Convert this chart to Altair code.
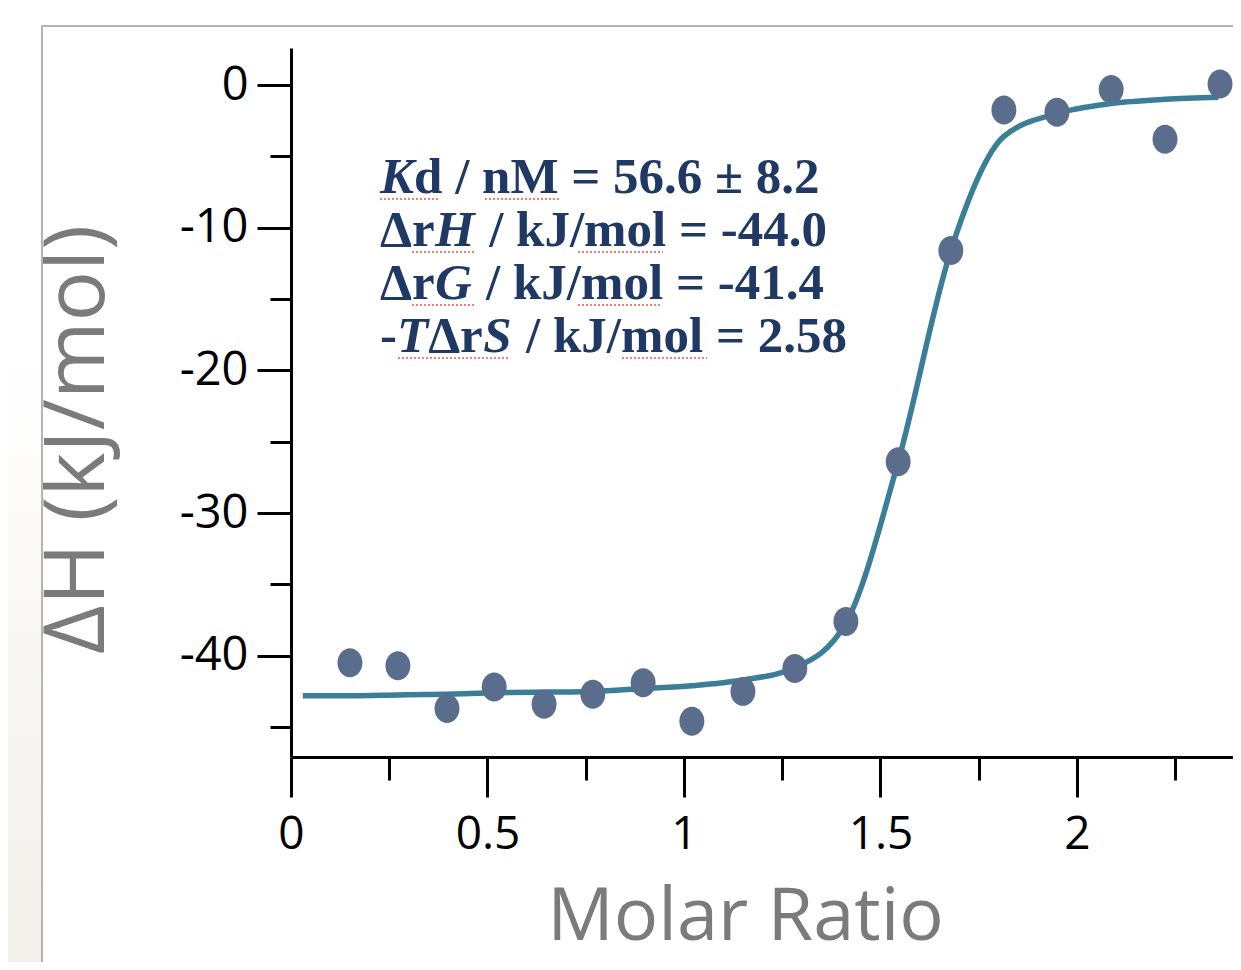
import altair as alt
import pandas as pd

# ---- data ----
molar_ratio = [0.150, 0.272, 0.397, 0.517, 0.644, 0.768, 0.896, 1.020, 1.150,
               1.282, 1.412, 1.545, 1.679, 1.814, 1.949, 2.087, 2.224, 2.364]
delta_h = [-40.5, -40.7, -43.7, -42.2, -43.4, -42.7, -41.9, -44.6, -42.5,
           -40.9, -37.6, -26.4, -11.6, -1.75, -1.9, -0.3, -3.8, 0.07]

fit_x = [0.03, 0.150, 0.272, 0.397, 0.517, 0.644, 0.768, 0.896, 1.020, 1.150,
         1.282, 1.412, 1.545, 1.679, 1.814, 1.949, 2.087, 2.224, 2.360]
fit_y = [-42.8, -42.8, -42.75, -42.7, -42.6, -42.55, -42.5, -42.3, -42.1, -41.7,
         -40.85, -37.7, -26.4, -11.6, -3.6, -2.0, -1.3, -1.0, -0.85]

x_ticks = [0, 0.25, 0.5, 0.75, 1, 1.25, 1.5, 1.75, 2, 2.25]
y_ticks = [0, -5, -10, -15, -20, -25, -30, -35, -40, -45]

# annotation lines: list of (text, italic) segments
annotation = [
    [("K", True), ("d / nM = 56.6 ± 8.2", False)],
    [("Δr", False), ("H", True), ("/ kJ/mol = -44.0", False)],
    [("Δr", False), ("G", True), ("/ kJ/mol = -41.4", False)],
    [("-", False), ("T", True), ("Δr", False), ("S", True), ("/ kJ/mol = 2.58", False)],
]
# spell-check squiggles under words (page pixel spans per annotation line)
squiggles = [
    [(380, 440), (485, 560)],
    [(412, 475), (578, 663)],
    [(412, 475), (578, 662)],
    [(398, 510), (622, 707)],
]

# ---- styling ----
W, H = 942, 709
PAD_L, PAD_T = 283, 40
DOT = "#5a6d8c"
LINE = "#3a7f97"
NAVY = "#1f3864"
AXIS_FONT = "Open Sans"
ANN_SIZE = 51

pts = pd.DataFrame({"x": molar_ratio, "y": delta_h})
fit = pd.DataFrame({"x": fit_x, "y": fit_y})

xscale = alt.Scale(domain=[0, 2.397], nice=False, zero=False)
yscale = alt.Scale(domain=[-47.1, 2.6], nice=False, zero=False)

xaxis = alt.Axis(
    title="Molar Ratio", values=x_ticks, grid=False,
    labelExpr="(datum.value * 2) % 1 === 0 ? '' + datum.value : ''",
    tickSize={"condition": {"test": "(datum.value * 2) % 1 === 0", "value": 40}, "value": 23},
    tickWidth=3, tickColor="black", domainColor="black", domainWidth=3,
    labelFont=AXIS_FONT, labelFontSize=46, labelColor="black", labelPadding=15,
    labelFlush=False, labelOverlap=False,
    titleFont=AXIS_FONT, titleFontSize=74, titleFontWeight="normal", titleColor="#7b7b7b",
    titleX=454, titleY=182, titleAlign="center", titleBaseline="alphabetic",
)
yaxis = alt.Axis(
    title="ΔH (kJ/mol)", values=y_ticks, grid=False,
    labelExpr="datum.value % 10 === 0 ? '' + datum.value : ''",
    tickSize={"condition": {"test": "datum.value % 10 === 0", "value": 34}, "value": 21},
    tickWidth=3, tickColor="black", domainColor="black", domainWidth=3,
    labelFont=AXIS_FONT, labelFontSize=47, labelColor="black", labelPadding=9,
    labelFlush=False, labelOverlap=False,
    titleFont=AXIS_FONT, titleFontSize=84, titleFontWeight="normal", titleColor="#7b7b7b",
    titleAngle=-90, titleX=-188, titleY=391, titleAlign="center", titleBaseline="alphabetic",
)

one = pd.DataFrame({"a": [0]})

# slide frame decorations
strip = alt.Chart(one).mark_rect(
    fill=alt.Gradient(gradient="linear", x1=0, y1=0, x2=0, y2=1,
                      stops=[alt.GradientStop(color="#ffffff", offset=0),
                             alt.GradientStop(color="#ffffff", offset=0.35),
                             alt.GradientStop(color="#f3efeb", offset=1)])
).encode(x=alt.value(-PAD_L), x2=alt.value(-250), y=alt.value(-PAD_T), y2=alt.value(H + 205))

frame = alt.Chart(one).mark_rect(filled=False, stroke="#b4b4b4", strokeWidth=2).encode(
    x=alt.value(-249), x2=alt.value(W + 40), y=alt.value(-22), y2=alt.value(H + 260))

line = alt.Chart(fit).mark_line(color=LINE, strokeWidth=5.5, interpolate="monotone").encode(
    x=alt.X("x:Q", scale=xscale, axis=xaxis),
    y=alt.Y("y:Q", scale=yscale, axis=yaxis),
)

points = alt.Chart(pts).mark_point(
    shape="M0,-1A0.86,1 0 1,1 0,1A0.86,1 0 1,1 0,-1Z",
    filled=True, fill=DOT, opacity=1, strokeWidth=0, size=840,
).encode(x=alt.X("x:Q", scale=xscale), y=alt.Y("y:Q", scale=yscale))

# approximate advance widths (em) for Liberation Serif bold / bold-italic prefixes,
# italic capitals include the following word space
adv = {("K", True): 0.667, ("Δr", False): 1.08, ("H", True): 1.06, ("G", True): 1.0,
       ("-", False): 0.333, ("T", True): 0.611, ("S", True): 0.84}

ann_layers = []
base_x = 380 - 8 - PAD_L
baselines = [193, 246, 299, 352]
for li, segs in enumerate(annotation):
    px = base_x
    py = baselines[li] - 8 - PAD_T
    for txt, ital in segs:
        ann_layers.append(
            alt.Chart(one).mark_text(
                text=txt, font="Liberation Serif", fontSize=ANN_SIZE, fontWeight="bold",
                fontStyle="italic" if ital else "normal", color=NAVY,
                align="left", baseline="alphabetic",
            ).encode(x=alt.value(px), y=alt.value(py))
        )
        px += adv.get((txt, ital), 0) * ANN_SIZE
    for a, b in squiggles[li]:
        ann_layers.append(
            alt.Chart(one).mark_rule(color="#e8584f", strokeWidth=1.6, strokeDash=[2, 2]).encode(
                x=alt.value(a - 8 - PAD_L), x2=alt.value(b - 8 - PAD_L), y=alt.value(py + 6))
        )

chart = alt.layer(strip, frame, line, points, *ann_layers).properties(
    width=W, height=H,
    padding={"left": PAD_L, "top": PAD_T, "right": 0, "bottom": 205},
    autosize=alt.AutoSizeParams(type="none"),
    background="white",
).configure_view(strokeWidth=0)

chart.save("out.html", embed_options={"renderer": "svg", "actions": False})
